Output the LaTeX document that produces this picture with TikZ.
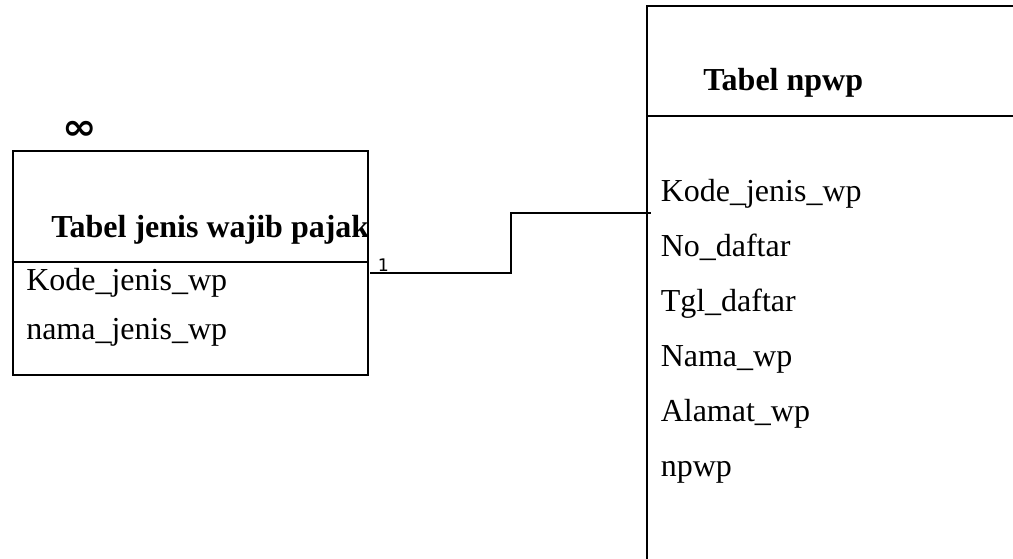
\documentclass[tikz,border=0pt]{standalone}
\usepackage{fontspec}
\setmainfont{Liberation Serif}
\newfontfamily\symfont{DejaVu Sans}
\newfontfamily\labfont{DejaVu Sans}
\begin{document}
\begin{tikzpicture}[x=0.75pt,y=-0.75pt,
  tablebox/.style={draw=black,line width=1.5pt,rectangle,inner sep=0pt,anchor=north west},
  rule/.style={draw=black,line width=1.5pt},
  link/.style={draw=black,line width=1.5pt},
  field/.style={anchor=base west,inner sep=0pt,font=\fontsize{24}{28}\selectfont},
  title/.style={anchor=base west,inner sep=0pt,font=\fontsize{24}{28}\selectfont\bfseries},
  card/.style={anchor=base west,inner sep=0pt,font=\labfont\fontsize{13}{15}\selectfont}]
\useasboundingbox (0,0) rectangle (1013,558);
\clip (0,0) rectangle (1013,558);

% Tabel jenis wajib pajak
\node[tablebox,minimum width=266.25pt,minimum height=168pt] (jwp) at (11.5,150) {};
\draw[rule] (jwp.north west |- 0,262) coordinate (jwpdiv) -- (jwp.north east |- 0,262);
\begin{scope}
  \clip (jwp.north west) rectangle (jwpdiv -| jwp.east);
  \node[title] (jwptitle) at (51,237) {Tabel jenis wajib pajak};
\end{scope}
\node[field] (jwpf1) at (26,290.5) {Kode\_jenis\_wp};
\node[field] (jwpf2) at (26,339.5) {nama\_jenis\_wp};
\node[inner sep=0pt,font=\symfont\bfseries\fontsize{27}{29}\selectfont,xscale=1.15] (many) at (79.5,130) {∞};

% Tabel npwp
\node[tablebox,minimum width=315pt,minimum height=450pt] (npwp) at (646,5) {};
\draw[rule] (npwp.north west |- 0,116) -- (npwp.north east |- 0,116);
\node[title] (npwptitle) at (703,90) {Tabel npwp};
\node[field] (nf1) at (660.5,201.5) {Kode\_jenis\_wp};
\node[field] (nf2) at (660.5,256.5) {No\_daftar};
\node[field] (nf3) at (660.5,311.5) {Tgl\_daftar};
\node[field] (nf4) at (660.5,366.5) {Nama\_wp};
\node[field] (nf5) at (660.5,421.5) {Alamat\_wp};
\node[field] (nf6) at (660.5,476.5) {npwp};

% relationship line
\coordinate (from) at (370,273);
\coordinate (bend) at (511,240);
\coordinate (to) at (651,212.5);
\draw[link] (from) -- (from -| bend) |- (to);
\node[card] (one) at (377.5,271) {1};
\end{tikzpicture}
\end{document}
